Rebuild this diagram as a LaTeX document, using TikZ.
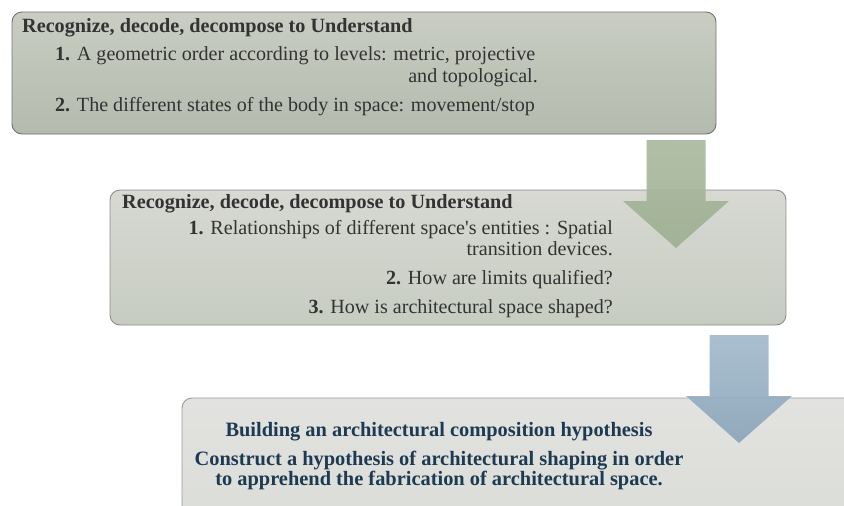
\documentclass[tikz,border=0pt]{standalone}
\usepackage{fontspec}
\setmainfont{Liberation Serif}
\usetikzlibrary{positioning}

\definecolor{ink}{HTML}{333333}
\definecolor{navy}{HTML}{1E3A52}
\definecolor{greentop}{HTML}{A9B99E}
\definecolor{greenbot}{HTML}{9FB092}
\definecolor{bluetop}{HTML}{A2BACC}
\definecolor{bluebot}{HTML}{8BA5BA}

\tikzset{
  panel/.style={draw=#1, rounded corners=10pt, line width=0.9pt, inner sep=0pt},
  head/.style={font=\fontsize{20.2}{23}\selectfont\bfseries, text=ink, inner sep=0pt},
  item/.style={font=\fontsize{20.1}{23}\selectfont, text=ink, inner sep=0pt},
  goal/.style={font=\fontsize{20.4}{22}\selectfont\bfseries, text=navy, inner sep=0pt},
  blockarrow/.style 2 args={top color=#1, bottom color=#2, draw=none, fill opacity=0.92}
}

\newcommand{\downblock}[2]{%
  \path[#2] (#1) +(-29.5,0) -- +(29.5,0) -- +(29.5,61) -- +(53,61)
    -- +(0,108) -- +(-53,61) -- +(-29.5,61) -- cycle;}

\begin{document}
\begin{tikzpicture}[x=1pt, y=-1pt]
  \clip (0,0) rectangle (844,506);

  % the three panels
  \node[panel=black!55, minimum width=704pt, minimum height=122pt,
        top color={rgb,255:red,201;green,205;blue,195},
        bottom color={rgb,255:red,180;green,186;blue,173}] (box1) at (364,73) {};
  \node[panel=black!45, minimum width=676pt, minimum height=135pt,
        top color={rgb,255:red,215;green,217;blue,210},
        bottom color={rgb,255:red,199;green,204;blue,193}] (box2) at (448,257.5) {};
  \node[panel=black!40, minimum width=720pt, minimum height=160pt,
        top color={rgb,255:red,226;green,227;blue,224},
        bottom color={rgb,255:red,217;green,219;blue,214}] (box3) at (542,478) {};

  % texts of the first panel
  \node[head, anchor=base west] (h1) at (22,32) {Recognize, decode, decompose to Understand};
  \node[item, anchor=base west] (p11) at (55,60) {\textbf{1.} A geometric order according to levels: metric, projective};
  \node[item, anchor=base east] (p11b) at (538,82) {and topological.};
  \node[item, anchor=base west] (p12) at (55,111) {\textbf{2.} The different states of the body in space: movement/stop};

  % texts of the second panel
  \node[head, anchor=base west] (h2) at (122,208) {Recognize, decode, decompose to Understand};
  \node[item, anchor=base east] (p21) at (613,234) {\textbf{1.} Relationships of different space\textquotesingle s entities : Spatial};
  \node[item, anchor=base east] (p21b) at (613,255) {transition devices.};
  \node[item, anchor=base east] (p22) at (613,284) {\textbf{2.} How are limits qualified?};
  \node[item, anchor=base east] (p23) at (613,313) {\textbf{3.} How is architectural space shaped?};

  % texts of the third panel
  \node[goal, anchor=base] (g1) at (439,436) {Building an architectural composition hypothesis};
  \node[goal, anchor=base] (g2) at (439,465) {Construct a hypothesis of architectural shaping in order};
  \node[goal, anchor=base] (g3) at (439,485) {to apprehend the fabrication of architectural space.};

  % arrows between panels
  \coordinate (a1) at (676,140);
  \coordinate (a2) at (739,335);
  \downblock{a1}{blockarrow={greentop}{greenbot}}
  \downblock{a2}{blockarrow={bluetop}{bluebot}}
\end{tikzpicture}
\end{document}
